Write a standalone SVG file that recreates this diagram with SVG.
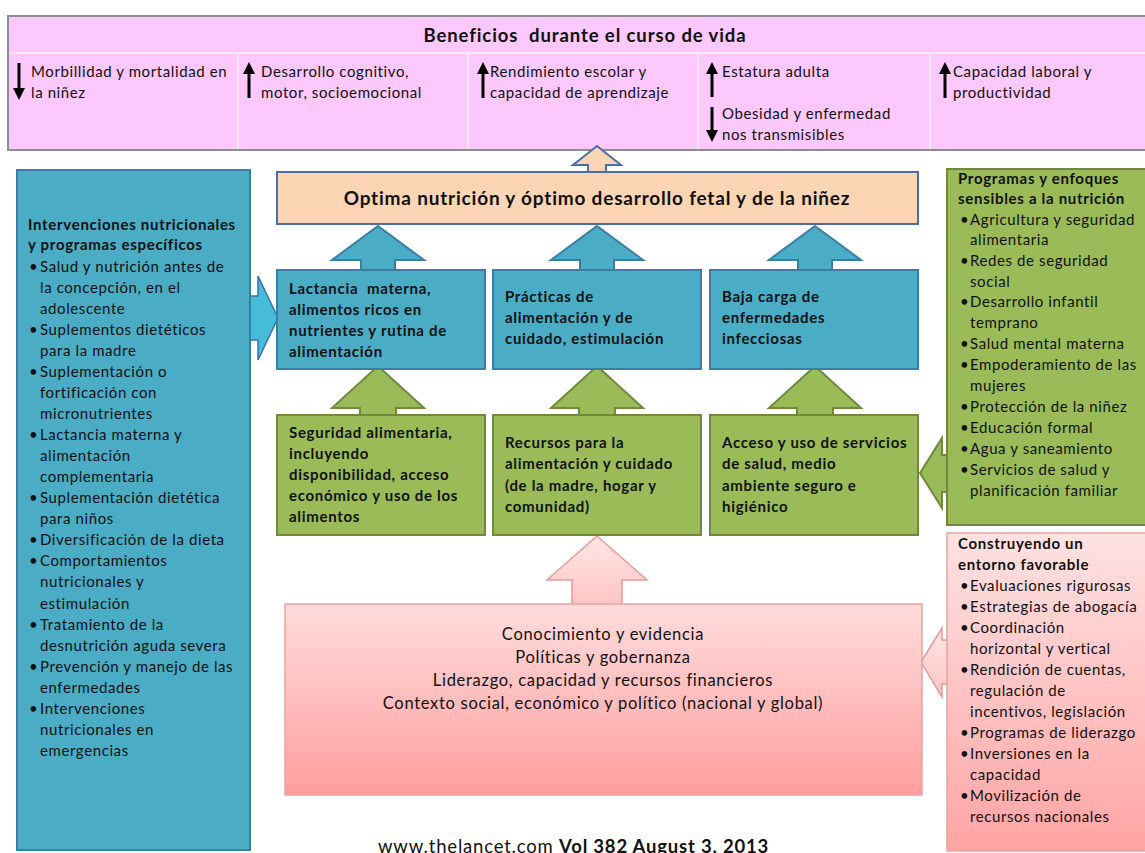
<svg xmlns="http://www.w3.org/2000/svg" width="1145" height="853" viewBox="0 0 1145 853">
<defs>
<style>
text{font-family:Lato,"Liberation Sans",sans-serif;fill:#111}
.r{font-size:15px;letter-spacing:0.6px}
.bb{font-size:15px;letter-spacing:0.7px;font-weight:bold}
.ban{fill:#FDC8FD;stroke:#8E8E8E;stroke-width:2}
.div{stroke:#F7E6F7;stroke-width:2}
.blue{fill:#4BACC6;stroke:#3A7FA0;stroke-width:2}
.green{fill:#9BBB59;stroke:#71893F;stroke-width:2}
.orange{fill:#FCD5B4;stroke:#4A6FA5;stroke-width:2}
.ar{stroke:#000;stroke-width:3;fill:none}
</style>
<linearGradient id="pinkG" x1="0" y1="0" x2="0" y2="1">
<stop offset="0" stop-color="#FFDCDC"/><stop offset="1" stop-color="#FF9E9E"/>
</linearGradient>
<linearGradient id="pinkA" x1="0" y1="0" x2="0" y2="1">
<stop offset="0" stop-color="#FFE6E6"/><stop offset="1" stop-color="#FFC4C4"/>
</linearGradient>
<linearGradient id="pinkR" x1="0" y1="0" x2="0" y2="1">
<stop offset="0" stop-color="#FFE2E2"/><stop offset="1" stop-color="#FFA4A4"/>
</linearGradient>
<marker id="ah" viewBox="0 0 10 10" refX="5" refY="5" markerWidth="4" markerHeight="4" orient="auto-start-reverse" markerUnits="strokeWidth">
<path d="M0,0 L10,5 L0,10 z" fill="#000"/>
</marker>
</defs>

<g id="banner">
<rect class="ban" x="8" y="16" width="1145" height="134"/>
<line class="div" x1="9" y1="53" x2="1145" y2="53"/>
<line class="div" x1="238" y1="54" x2="238" y2="149"/>
<line class="div" x1="468" y1="54" x2="468" y2="149"/>
<line class="div" x1="698" y1="54" x2="698" y2="149"/>
<line class="div" x1="930" y1="54" x2="930" y2="149"/>
<text x="585" y="42" font-size="18.5" font-weight="bold" letter-spacing="0.9" text-anchor="middle" xml:space="preserve">Beneficios  durante el curso de vida</text>
<line class="ar" x1="19" y1="63" x2="19" y2="94" marker-end="url(#ah)"/>
<text class="r" x="31" y="77">Morbillidad y mortalidad en</text>
<text class="r" x="31" y="98">la niñez</text>
<line class="ar" x1="249" y1="98" x2="249" y2="68" marker-end="url(#ah)"/>
<text class="r" x="261" y="77">Desarrollo cognitivo,</text>
<text class="r" x="261" y="98">motor, socioemocional</text>
<line class="ar" x1="483" y1="98" x2="483" y2="68" marker-end="url(#ah)"/>
<text class="r" x="490" y="77">Rendimiento escolar y</text>
<text class="r" x="490" y="98">capacidad de aprendizaje</text>
<line class="ar" x1="712" y1="97" x2="712" y2="68" marker-end="url(#ah)"/>
<text class="r" x="722" y="77">Estatura adulta</text>
<line class="ar" x1="712" y1="107" x2="712" y2="136" marker-end="url(#ah)"/>
<text class="r" x="722" y="119">Obesidad y enfermedad</text>
<text class="r" x="722" y="140">nos transmisibles</text>
<line class="ar" x1="945" y1="98" x2="945" y2="68" marker-end="url(#ah)"/>
<text class="r" x="953" y="77">Capacidad laboral y</text>
<text class="r" x="953" y="98">productividad</text>
</g>

<g id="connectors">
<polygon class="orange" points="597,146 621,165 606,165 606,173 588,173 588,165 573,165"/>
<polygon class="blue" points="378,226 424,260 395,260 395,271 361,271 361,260 332,260"/>
<polygon class="blue" points="597,226 643,260 614,260 614,271 580,271 580,260 551,260"/>
<polygon class="blue" points="815,226 861,260 832,260 832,271 798,271 798,260 769,260"/>
<polygon class="green" points="378,366 424,408 396,408 396,416 360,416 360,408 332,408"/>
<polygon class="green" points="597,366 643,408 615,408 615,416 579,416 579,408 551,408"/>
<polygon class="green" points="815,366 861,408 833,408 833,416 797,416 797,408 769,408"/>
<polygon fill="url(#pinkA)" stroke="#E79A9A" stroke-width="1.5" points="597,536 647,580 622,580 622,605 572,605 572,580 547,580"/>
<polygon fill="#45BDD9" stroke="#3A6FB0" stroke-width="1.5" points="248,296 258,296 258,276 278,318 258,360 258,340 248,340"/>
<polygon class="green" points="950,455 942,455 942,438 920,473 942,508 942,492 950,492"/>
<polygon fill="url(#pinkA)" stroke="#E79A9A" stroke-width="1.5" points="950,640 942,640 942,628 921,662 942,697 942,684 950,684"/>
</g>

<g id="optima">
<rect class="orange" x="277" y="172" width="641" height="52"/>
<text x="597" y="205" font-size="19" font-weight="bold" letter-spacing="0.8" text-anchor="middle">Optima nutrición y óptimo desarrollo fetal y de la niñez</text>
</g>

<g id="lactancia">
<rect class="blue" x="277" y="270" width="208" height="99"/>
<text class="bb" x="289" y="294" xml:space="preserve">Lactancia  materna,</text>
<text class="bb" x="289" y="315">alimentos ricos en</text>
<text class="bb" x="289" y="336">nutrientes y rutina de</text>
<text class="bb" x="289" y="357">alimentación</text>
</g>
<g id="practicas">
<rect class="blue" x="493" y="270" width="208" height="99"/>
<text class="bb" x="505" y="302">Prácticas de</text>
<text class="bb" x="505" y="323">alimentación y de</text>
<text class="bb" x="505" y="344">cuidado, estimulación</text>
</g>
<g id="baja">
<rect class="blue" x="710" y="270" width="208" height="99"/>
<text class="bb" x="722" y="302">Baja carga de</text>
<text class="bb" x="722" y="323">enfermedades</text>
<text class="bb" x="722" y="344">infecciosas</text>
</g>

<g id="seguridad">
<rect class="green" x="277" y="415" width="208" height="120"/>
<text class="bb" x="289" y="438">Seguridad alimentaria,</text>
<text class="bb" x="289" y="459">incluyendo</text>
<text class="bb" x="289" y="480">disponibilidad, acceso</text>
<text class="bb" x="289" y="501">económico y uso de los</text>
<text class="bb" x="289" y="522">alimentos</text>
</g>
<g id="recursos">
<rect class="green" x="493" y="415" width="208" height="120"/>
<text class="bb" x="505" y="448">Recursos para la</text>
<text class="bb" x="505" y="469">alimentación y cuidado</text>
<text class="bb" x="505" y="491">(de la madre, hogar y</text>
<text class="bb" x="505" y="512">comunidad)</text>
</g>
<g id="acceso">
<rect class="green" x="710" y="415" width="208" height="120"/>
<text class="bb" x="722" y="448">Acceso y uso de servicios</text>
<text class="bb" x="722" y="469">de salud, medio</text>
<text class="bb" x="722" y="491">ambiente seguro e</text>
<text class="bb" x="722" y="512">higiénico</text>
</g>

<g id="contexto">
<rect x="285" y="604" width="637" height="191" fill="url(#pinkG)" stroke="#E8A3A3" stroke-width="1.5"/>
<g font-size="16.5" letter-spacing="0.7" text-anchor="middle">
<text x="603" y="640">Conocimiento y evidencia</text>
<text x="603" y="663">Políticas y gobernanza</text>
<text x="603" y="686">Liderazgo, capacidad y recursos financieros</text>
<text x="603" y="709">Contexto social, económico y político (nacional y global)</text>
</g>
</g>

<g id="intervenciones">
<rect class="blue" x="17" y="170" width="233" height="680"/>
<text class="bb" x="28" y="230">Intervenciones nutricionales</text>
<text class="bb" x="28" y="250">y programas específicos</text>
<text class="r" x="29" y="272">•</text><text class="r" x="40" y="272">Salud y nutrición antes de</text>
<text class="r" x="40" y="293">la concepción, en el</text>
<text class="r" x="40" y="314">adolescente</text>
<text class="r" x="29" y="335">•</text><text class="r" x="40" y="335">Suplementos dietéticos</text>
<text class="r" x="40" y="356">para la madre</text>
<text class="r" x="29" y="377">•</text><text class="r" x="40" y="377">Suplementación o</text>
<text class="r" x="40" y="398">fortificación con</text>
<text class="r" x="40" y="419">micronutrientes</text>
<text class="r" x="29" y="440">•</text><text class="r" x="40" y="440">Lactancia materna y</text>
<text class="r" x="40" y="461">alimentación</text>
<text class="r" x="40" y="482">complementaria</text>
<text class="r" x="29" y="503">•</text><text class="r" x="40" y="503">Suplementación dietética</text>
<text class="r" x="40" y="524">para niños</text>
<text class="r" x="29" y="545">•</text><text class="r" x="40" y="545">Diversificación de la dieta</text>
<text class="r" x="29" y="566">•</text><text class="r" x="40" y="566">Comportamientos</text>
<text class="r" x="40" y="587">nutricionales y</text>
<text class="r" x="40" y="609">estimulación</text>
<text class="r" x="29" y="630">•</text><text class="r" x="40" y="630">Tratamiento de la</text>
<text class="r" x="40" y="651">desnutrición aguda severa</text>
<text class="r" x="29" y="672">•</text><text class="r" x="40" y="672">Prevención y manejo de las</text>
<text class="r" x="40" y="693">enfermedades</text>
<text class="r" x="29" y="714">•</text><text class="r" x="40" y="714">Intervenciones</text>
<text class="r" x="40" y="735">nutricionales en</text>
<text class="r" x="40" y="756">emergencias</text>
</g>

<g id="programas">
<rect class="green" x="947" y="169" width="210" height="356"/>
<text class="bb" x="958" y="184">Programas y enfoques</text>
<text class="bb" x="958" y="204">sensibles a la nutrición</text>
<text class="r" x="960" y="225">•</text><text class="r" x="970" y="225">Agricultura y seguridad</text>
<text class="r" x="970" y="245">alimentaria</text>
<text class="r" x="960" y="266">•</text><text class="r" x="970" y="266">Redes de seguridad</text>
<text class="r" x="970" y="287">social</text>
<text class="r" x="960" y="307">•</text><text class="r" x="970" y="307">Desarrollo infantil</text>
<text class="r" x="970" y="328">temprano</text>
<text class="r" x="960" y="349">•</text><text class="r" x="970" y="349">Salud mental materna</text>
<text class="r" x="960" y="370">•</text><text class="r" x="970" y="370">Empoderamiento de las</text>
<text class="r" x="970" y="391">mujeres</text>
<text class="r" x="960" y="412">•</text><text class="r" x="970" y="412">Protección de la niñez</text>
<text class="r" x="960" y="433">•</text><text class="r" x="970" y="433">Educación formal</text>
<text class="r" x="960" y="454">•</text><text class="r" x="970" y="454">Agua y saneamiento</text>
<text class="r" x="960" y="475">•</text><text class="r" x="970" y="475">Servicios de salud y</text>
<text class="r" x="970" y="496">planificación familiar</text>
</g>

<g id="entorno">
<rect x="947" y="533" width="210" height="318" fill="url(#pinkR)" stroke="#E8A3A3" stroke-width="1.5"/>
<text class="bb" x="958" y="549">Construyendo un</text>
<text class="bb" x="958" y="570">entorno favorable</text>
<text class="r" x="960" y="591">•</text><text class="r" x="970" y="591">Evaluaciones rigurosas</text>
<text class="r" x="960" y="612">•</text><text class="r" x="970" y="612">Estrategias de abogacía</text>
<text class="r" x="960" y="633">•</text><text class="r" x="970" y="633">Coordinación</text>
<text class="r" x="970" y="654">horizontal y vertical</text>
<text class="r" x="960" y="675">•</text><text class="r" x="970" y="675">Rendición de cuentas,</text>
<text class="r" x="970" y="696">regulación de</text>
<text class="r" x="970" y="717">incentivos, legislación</text>
<text class="r" x="960" y="738">•</text><text class="r" x="970" y="738">Programas de liderazgo</text>
<text class="r" x="960" y="759">•</text><text class="r" x="970" y="759">Inversiones en la</text>
<text class="r" x="970" y="780">capacidad</text>
<text class="r" x="960" y="801">•</text><text class="r" x="970" y="801">Movilización de</text>
<text class="r" x="970" y="822">recursos nacionales</text>
</g>

<g id="footer">
<text x="378" y="853" font-size="18.5" letter-spacing="0.8">www.thelancet.com <tspan font-weight="bold">Vol 382 August 3, 2013</tspan></text>
</g>
</svg>
